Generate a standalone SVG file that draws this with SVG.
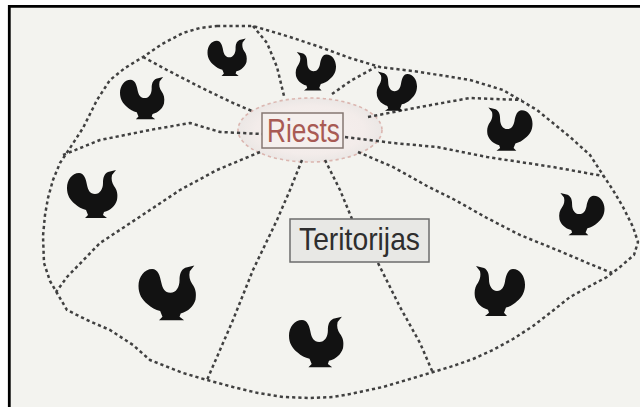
<svg xmlns="http://www.w3.org/2000/svg" width="640" height="407" viewBox="0 0 640 407">
  <style>
    .dash { fill: none; stroke: #404040; stroke-width: 2.5; stroke-dasharray: 3.2 3; stroke-linejoin: round; }
    .bird { fill: #121212; }
    .lbl { font-family: "Liberation Sans", Arial, sans-serif; }
  </style>
  <defs>
    <!-- grouse silhouette, fanned tail on the left, head on the right, 50x50 box -->
    <path id="grouse" d="M -13,-22 C -20,-22 -25,-15 -25,-7 C -25,0 -22,5 -17,9 C -14,12 -10,14 -6,15 L -4,20 L -7,23 L 15,23 L 11,20 L 12,17 C 19,15 23,11 25,5 C 26,-1 25,-5 22,-9 C 20,-12 19,-16 20,-20 L 24,-25 L 16,-23 C 12,-21 11,-17 11,-12 C 11,-6 8,-1 3,-1 C -2,-1 -4,-5 -5,-10 C -6,-16 -8,-22 -13,-22 Z"/>
    <radialGradient id="lekGlow" cx="0.5" cy="0.5" r="0.5">
      <stop offset="0" stop-color="#f6f0ee"/>
      <stop offset="0.75" stop-color="#f3ecea"/>
      <stop offset="1" stop-color="#ebe7e5"/>
    </radialGradient>
  </defs>

  <!-- page and frame -->
  <rect x="0" y="0" width="640" height="407" fill="#ffffff"/>
  <rect x="9" y="6" width="631" height="401" fill="#f3f3ef"/>
  <path d="M 9.3,407 V 6.3 H 640" fill="none" stroke="#000" stroke-width="2.8"/>

  <!-- territory area -->
  <g id="area">
    <path d="M 217,26 L 253,26 L 290,37 L 320,47 L 350,58 L 380,67 L 420,72 L 470,80 L 503,90 L 537,110 L 570,137 L 590,155 L 603,175 L 613,190 L 623,207 L 633,227 L 638,242 L 634,255 L 620,267 L 607,277 L 590,286 L 570,297 L 550,313 L 533,326 L 513,339 L 493,350 L 473,359 L 453,366 L 420,376 L 383,387 L 350,394 L 333,397 L 308,398 L 283,397 L 258,393 L 233,387 L 207,380 L 183,373 L 150,360 L 133,345 L 110,330 L 87,320 L 67,310 L 57,293 L 50,281 L 44,263 L 43,236 L 45,215 L 48,198 L 53,180 L 60,163 L 70,148 L 83,128 L 97,100 L 110,80 L 125,68 L 143,57 L 162,44 L 183,33 L 200,28 Z" fill="#e4e4e1" class="dash"/>
  </g>

  <!-- lek zone -->
  <g id="lek-zone">
    <ellipse cx="310" cy="130" rx="72" ry="32" fill="url(#lekGlow)" stroke="#dbb6b0" stroke-width="1.6" stroke-dasharray="3.2 3"/>
  </g>

  <!-- territory boundaries -->
  <g id="boundaries">
    <path class="dash" d="M 143,57 L 167,70 L 200,87 L 233,103 L 252,111"/>
    <path class="dash" d="M 253,26 L 267,43 L 277,67 L 284,96"/>
    <path class="dash" d="M 63,155 L 100,140 L 150,130 L 190,123 L 220,132 L 262,134"/>
    <path class="dash" d="M 260,152 L 217,170 L 180,190 L 150,210 L 100,243 L 67,277 L 56,292"/>
    <path class="dash" d="M 302,160 L 290,190 L 277,220 L 253,270 L 233,320 L 207,380"/>
    <path class="dash" d="M 325,160 L 340,190 L 352,219"/>
    <path class="dash" d="M 378,263 L 400,307 L 420,343 L 433,373"/>
    <path class="dash" d="M 358,152 L 393,167 L 427,186 L 455,200 L 487,218 L 520,235 L 557,250 L 590,264 L 612,273"/>
    <path class="dash" d="M 345,137 L 393,143 L 437,147 L 487,157 L 553,167 L 603,176"/>
    <path class="dash" d="M 368,117 L 420,107 L 470,98 L 522,100"/>
    <path class="dash" d="M 332,94 L 352,80 L 376,67"/>
  </g>

  <!-- birds -->
  <g id="birds" class="bird">
    <use href="#grouse" transform="translate(227,58) scale(0.78)"/>
    <use href="#grouse" transform="translate(142,99) scale(0.88)"/>
    <use href="#grouse" transform="translate(316,72) scale(-0.8,0.8)"/>
    <use href="#grouse" transform="translate(397,92) scale(-0.8,0.82)"/>
    <use href="#grouse" transform="translate(510,130) scale(-0.9,0.9)"/>
    <use href="#grouse" transform="translate(92,195) scale(1.0)"/>
    <use href="#grouse" transform="translate(582,215) scale(-0.9,0.88)"/>
    <use href="#grouse" transform="translate(167,294) scale(1.14)"/>
    <use href="#grouse" transform="translate(500,292) scale(-1.0,1.04)"/>
    <use href="#grouse" transform="translate(316,343) scale(1.08,1.05)"/>
  </g>

  <!-- labels -->
  <g id="riests">
    <rect x="262" y="113" width="81" height="35" fill="#f5efed" stroke="#857772" stroke-width="1.5"/>
    <text class="lbl" x="267" y="142" font-size="33" fill="#a85a54" textLength="73" lengthAdjust="spacingAndGlyphs">Riests</text>
  </g>
  <g id="teritorijas">
    <rect x="290" y="219" width="139" height="43" fill="#e8e8e5" stroke="#6c6c6c" stroke-width="1.5"/>
    <text class="lbl" x="299" y="250" font-size="32" fill="#2e2e2e" textLength="121" lengthAdjust="spacingAndGlyphs">Teritorijas</text>
  </g>
</svg>
